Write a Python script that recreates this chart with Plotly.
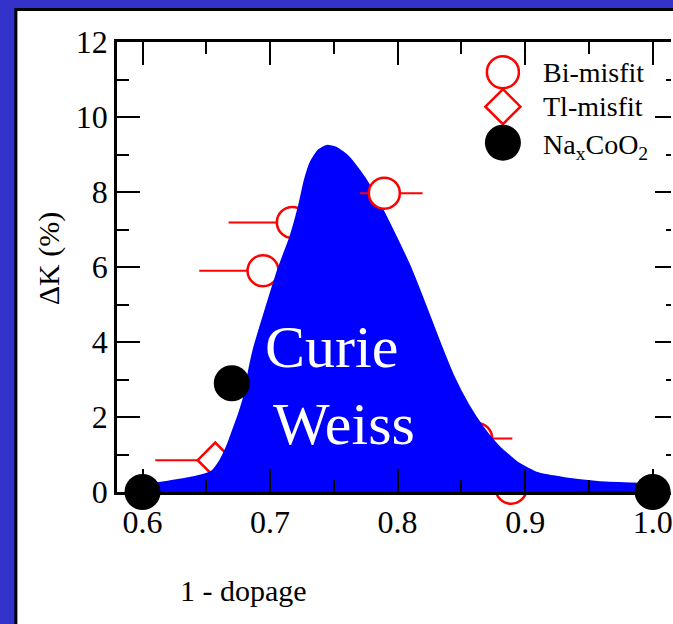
import plotly.graph_objects as go

# ---- data ----
curve_x = [0.5984, 0.6133, 0.642, 0.6537, 0.6602, 0.6662, 0.6705, 0.6758, 0.6797, 0.6836,
           0.6875, 0.7063, 0.7156, 0.7227, 0.7273, 0.7320, 0.7383, 0.7445, 0.7523, 0.7617,
           0.7742, 0.7875, 0.7992, 0.8102, 0.8211, 0.8334, 0.8438, 0.8555, 0.8672, 0.8789,
           0.8945, 0.9102, 0.9310, 0.9570, 0.9828, 1.0039]
curve_y = [0.21, 0.24, 0.41, 0.53, 0.80, 1.21, 1.60, 2.10, 2.54, 3.25,
           3.84, 5.92, 6.77, 7.63, 8.32, 8.80, 9.12, 9.23, 9.17, 8.93,
           8.37, 7.57, 6.77, 5.97, 5.04, 3.95, 3.09, 2.32, 1.71, 1.23,
           0.77, 0.50, 0.37, 0.27, 0.23, 0.21]

bi_x = [0.6945, 0.7175, 0.7896, 0.862, 0.889]
bi_y = [5.90, 7.19, 7.97, 1.43, 0.10]
bi_err_minus = [0.05, 0.05, 0.019, 0.03, 0.0]
bi_err_plus = [0.05, 0.05, 0.030, 0.028, 0.0]
bi_above_fill = [False, False, True, False, False]

tl_x = [0.657]
tl_y = [0.85]
tl_err = [0.047]

na_x = [0.60, 0.67, 1.00]
na_y = [0.0, 2.90, 0.0]
na_err_minus = [0.0, 0.0, 0.06]

x_ticks = [0.6, 0.7, 0.8, 0.9, 1.0]
x_ticklabels = ["0.6", "0.7", "0.8", "0.9", "1.0"]
y_ticks = [0, 2, 4, 6, 8, 10, 12]

# ---- geometry helpers (pixel -> paper) ----
W, H = 673, 624
L, R, T, B = 117, 0, 42, 132
PW, PH = W - L - R, H - T - B
def px(x):
    return (x - L) / PW
def py(y):
    return (H - B - y) / PH

SERIF = "Liberation Serif"
RED = "#FF0000"
BLUE = "#0000FF"

fig = go.Figure()

def bi_trace(idx):
    return go.Scatter(
        x=[bi_x[i] for i in idx], y=[bi_y[i] for i in idx], mode="markers",
        marker=dict(symbol="circle", size=31, color="white", line=dict(color=RED, width=2.5)),
        error_x=dict(type="data", symmetric=False,
                     array=[bi_err_plus[i] for i in idx],
                     arrayminus=[bi_err_minus[i] for i in idx],
                     color=RED, thickness=2, width=0),
        cliponaxis=False, showlegend=False, hoverinfo="skip")

below = [i for i, a in enumerate(bi_above_fill) if not a]
above = [i for i, a in enumerate(bi_above_fill) if a]

fig.add_trace(bi_trace(below))
fig.add_trace(go.Scatter(
    x=tl_x, y=tl_y, mode="markers",
    marker=dict(symbol="diamond", size=27, color="white", line=dict(color=RED, width=2.5)),
    error_x=dict(type="data", array=tl_err, color=RED, thickness=2, width=0),
    cliponaxis=False, showlegend=False, hoverinfo="skip"))

fig.add_trace(go.Scatter(
    x=curve_x, y=curve_y, mode="lines", fill="tozeroy", fillcolor=BLUE,
    line=dict(color=BLUE, width=2, shape="spline", smoothing=0.6),
    showlegend=False, hoverinfo="skip"))

fig.add_trace(bi_trace(above))

fig.add_trace(go.Scatter(
    x=na_x, y=na_y, mode="markers",
    marker=dict(symbol="circle", size=36, color="black", line=dict(width=0)),
    error_x=dict(type="data", symmetric=False, array=[0, 0, 0], arrayminus=na_err_minus,
                 color="black", thickness=2, width=0),
    cliponaxis=False, showlegend=False, hoverinfo="skip"))

tickfont = dict(family=SERIF, size=32, color="black")
fig.update_xaxes(range=[0.58, 0.58 + PW / 1280], tickvals=x_ticks, ticktext=x_ticklabels,
                 showgrid=False, zeroline=False, showline=True, linecolor="black",
                 linewidth=2.5, mirror="ticks", ticks="inside", ticklen=23, tickwidth=2,
                 tickcolor="black", tickfont=tickfont, ticklabeloverflow="allow",
                 minor=dict(dtick=0.05, tick0=0.6, ticks="inside", ticklen=12, tickwidth=2,
                            tickcolor="black"))
fig.update_yaxes(range=[0, 12], tickvals=y_ticks,
                 showgrid=False, zeroline=False, showline=True, linecolor="black",
                 linewidth=2.5, mirror=False, ticks="inside", ticklen=23, tickwidth=2,
                 tickcolor="black", tickfont=tickfont, ticklabeloverflow="allow",
                 minor=dict(dtick=1, tick0=0, ticks="inside", ticklen=12, tickwidth=2,
                            tickcolor="black"))
# right-hand ticks: the frame's right edge lies just past the picture, so only
# the inner part of each tick is visible
fig.update_layout(yaxis2=dict(
    overlaying="y", side="right", matches="y", range=[0, 12], tickvals=y_ticks,
    showticklabels=False, showgrid=False, zeroline=False, showline=False,
    ticks="inside", ticklen=16, tickwidth=2, tickcolor="black",
    minor=dict(dtick=1, tick0=0, ticks="inside", ticklen=5, tickwidth=2, tickcolor="black")))
fig.add_trace(go.Scatter(x=[None], y=[None], yaxis="y2", showlegend=False, hoverinfo="skip"))

shapes = [
    dict(type="rect", xref="paper", yref="paper", layer="below",
         x0=px(15.5), x1=px(720), y0=py(700), y1=py(9.5),
         fillcolor="white", line=dict(color="black", width=3)),
    # legend symbols
    dict(type="circle", xref="paper", yref="paper", xsizemode="pixel", ysizemode="pixel",
         xanchor=px(504.3), yanchor=py(72.3), x0=-16, x1=16, y0=-16, y1=16,
         fillcolor="white", line=dict(color=RED, width=2.5)),
    dict(type="path", xref="paper", yref="paper", xsizemode="pixel", ysizemode="pixel",
         xanchor=px(504.3), yanchor=py(106.7),
         path="M -17.5 0 L 0 17.5 L 17.5 0 L 0 -17.5 Z",
         fillcolor="white", line=dict(color=RED, width=2.5)),
    dict(type="circle", xref="paper", yref="paper", xsizemode="pixel", ysizemode="pixel",
         xanchor=px(504.3), yanchor=py(142.7), x0=-18, x1=18, y0=-18, y1=18,
         fillcolor="black", line=dict(color="black", width=0)),
]

legend_font = dict(family=SERIF, size=28, color="black")
annotations = [
    dict(text="Bi-misfit", x=px(543), y=py(72.3), xref="paper", yref="paper",
         xanchor="left", yanchor="middle", showarrow=False, font=legend_font),
    dict(text="Tl-misfit", x=px(543), y=py(106.7), xref="paper", yref="paper",
         xanchor="left", yanchor="middle", showarrow=False, font=legend_font),
    dict(text="Na<sub>x</sub>CoO<sub>2</sub>", x=px(543), y=py(146), xref="paper", yref="paper",
         xanchor="left", yanchor="middle", showarrow=False, font=legend_font),
    dict(text="Curie", x=px(332), y=py(347), xref="paper", yref="paper",
         xanchor="center", yanchor="middle", showarrow=False,
         font=dict(family=SERIF, size=60, color="white")),
    dict(text="Weiss", x=px(345), y=py(424), xref="paper", yref="paper",
         xanchor="center", yanchor="middle", showarrow=False,
         font=dict(family=SERIF, size=60, color="white")),
    dict(text="1 - dopage", x=px(244), y=py(590), xref="paper", yref="paper",
         xanchor="center", yanchor="middle", showarrow=False,
         font=dict(family=SERIF, size=30, color="black")),
    dict(text="ΔK (%)", x=px(49), y=py(259), xref="paper", yref="paper",
         xanchor="center", yanchor="middle", showarrow=False, textangle=-90,
         font=dict(family=SERIF, size=30, color="black")),
]

fig.update_layout(
    width=W, height=H, margin=dict(l=L, r=R, t=T, b=B, pad=0),
    paper_bgcolor="#3333CC", plot_bgcolor="rgba(0,0,0,0)",
    shapes=shapes, annotations=annotations, showlegend=False,
)

fig.write_html("out.html")
